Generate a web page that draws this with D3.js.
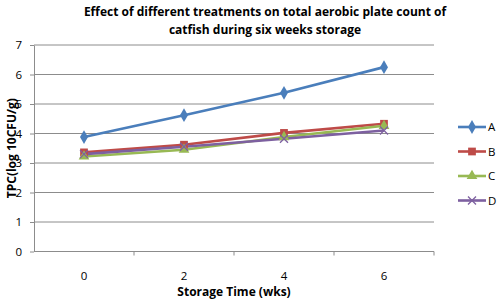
<!DOCTYPE html>
<html>
<head>
<meta charset="utf-8">
<script src="https://cdn.jsdelivr.net/npm/d3@7"></script>
<style>
  body { margin: 0; background: #fff; }
  text { font-family: "Open Sans", "Liberation Sans", sans-serif; }
</style>
</head>
<body>
<div id="chart"></div>
<script>
// data
const weeks = ["0", "2", "4", "6"];
const seriesNames = ["A", "B", "C", "D"];
const valuesA = [3.88, 4.62, 5.38, 6.25];
const valuesB = [3.36, 3.62, 4.02, 4.33];
const valuesC = [3.22, 3.45, 3.88, 4.26];
const valuesD = [3.30, 3.55, 3.82, 4.10];
const yTicks = [0, 1, 2, 3, 4, 5, 6, 7];

const colors = ["#4A7EBB", "#BE4B48", "#98B954", "#7D60A0"];
const shapes = ["diamond", "square", "triangle", "x"];

const series = seriesNames.map((name, i) => ({
    name: name,
    values: [valuesA, valuesB, valuesC, valuesD][i],
    color: colors[i],
    shape: shapes[i]
}));

const width = 500, height = 301;
const margin = {top: 45, right: 66, bottom: 49.5, left: 34};

const svg = d3.select("#chart").append("svg")
    .attr("width", width)
    .attr("height", height);

const x = d3.scaleBand()
    .domain(weeks)
    .range([margin.left, width - margin.right]);

const y = d3.scaleLinear()
    .domain([0, 7])
    .range([height - margin.bottom, margin.top]);

// gridlines
svg.append("g")
    .selectAll("line")
    .data(yTicks.slice(1))
    .join("line")
    .attr("x1", margin.left)
    .attr("x2", width - margin.right)
    .attr("y1", d => y(d))
    .attr("y2", d => y(d))
    .attr("stroke", "#8c8c8c")
    .attr("stroke-width", 1);

// y axis
const yAxis = svg.append("g")
    .attr("transform", "translate(" + margin.left + ",0)")
    .call(d3.axisLeft(y).tickValues(yTicks).tickFormat(d3.format("d"))
        .tickSize(4).tickSizeOuter(0).tickPadding(8));
yAxis.select(".domain").attr("stroke", "#8c8c8c");
yAxis.selectAll(".tick line").attr("stroke", "#8c8c8c");
yAxis.selectAll("text").attr("font-size", 11.5).attr("fill", "#000");

// x axis (category ticks sit between the groups)
const xAxis = svg.append("g")
    .attr("transform", "translate(0," + y(0) + ")");
xAxis.append("line")
    .attr("x1", margin.left)
    .attr("x2", width - margin.right)
    .attr("stroke", "#8c8c8c");
xAxis.selectAll(".sep")
    .data(weeks)
    .join("line")
    .attr("class", "sep")
    .attr("x1", d => x(d) + x.bandwidth())
    .attr("x2", d => x(d) + x.bandwidth())
    .attr("y1", 0)
    .attr("y2", 4)
    .attr("stroke", "#8c8c8c");
xAxis.selectAll("text")
    .data(weeks)
    .join("text")
    .attr("x", d => x(d) + x.bandwidth() / 2)
    .attr("y", 28)
    .attr("text-anchor", "middle")
    .attr("font-size", 11.5)
    .text(d => d);

// lines
const line = d3.line()
    .x((d, i) => x(weeks[i]) + x.bandwidth() / 2)
    .y(d => y(d));

svg.append("g")
    .selectAll("path")
    .data(series)
    .join("path")
    .attr("d", d => line(d.values))
    .attr("fill", "none")
    .attr("stroke", d => d.color)
    .attr("stroke-width", 2.6);

function drawMarker(g, shape, color) {
    if (shape === "x") {
        g.append("path")
            .attr("d", "M-4,-4L4,4M-4,4L4,-4")
            .attr("stroke", color)
            .attr("stroke-width", 1.3)
            .attr("fill", "none");
    } else {
        const type = {diamond: d3.symbolDiamond, square: d3.symbolSquare, triangle: d3.symbolTriangle}[shape];
        const size = {diamond: 55, square: 60, triangle: 50}[shape];
        g.append("path")
            .attr("d", d3.symbol().type(type).size(size)())
            .attr("fill", color);
    }
}

// markers
series.forEach(s => {
    s.values.forEach((v, i) => {
        const g = svg.append("g")
            .attr("transform", "translate(" + (x(weeks[i]) + x.bandwidth() / 2) + "," + y(v) + ")");
        drawMarker(g, s.shape, s.color);
    });
});

// legend
const legend = svg.append("g")
    .attr("transform", "translate(458,127)");
series.forEach((s, i) => {
    const g = legend.append("g").attr("transform", "translate(0," + (i * 24.5) + ")");
    g.append("line")
        .attr("x1", 0).attr("x2", 28)
        .attr("stroke", s.color)
        .attr("stroke-width", 2.6);
    drawMarker(g.append("g").attr("transform", "translate(14,0)"), s.shape, s.color);
    g.append("text")
        .attr("x", 30)
        .attr("y", 4)
        .attr("font-size", 11.5)
        .text(s.name);
});

// titles
const title = svg.append("text")
    .attr("x", 265)
    .attr("text-anchor", "middle")
    .attr("font-size", 12)
    .attr("font-weight", "bold");
title.append("tspan").attr("x", 265).attr("y", 16)
    .text("Effect of different treatments on total aerobic plate count of");
title.append("tspan").attr("x", 265).attr("y", 34)
    .text("catfish during six weeks storage");

svg.append("text")
    .attr("x", x("2") + x.bandwidth())
    .attr("y", 296)
    .attr("text-anchor", "middle")
    .attr("font-size", 12)
    .attr("font-weight", "bold")
    .text("Storage Time (wks)");

svg.append("text")
    .attr("transform", "translate(16," + y(3.5) + ") rotate(-90)")
    .attr("text-anchor", "middle")
    .attr("font-size", 12)
    .attr("font-weight", "bold")
    .text("TPC(log 10CFU/g)");
</script>
</body>
</html>
